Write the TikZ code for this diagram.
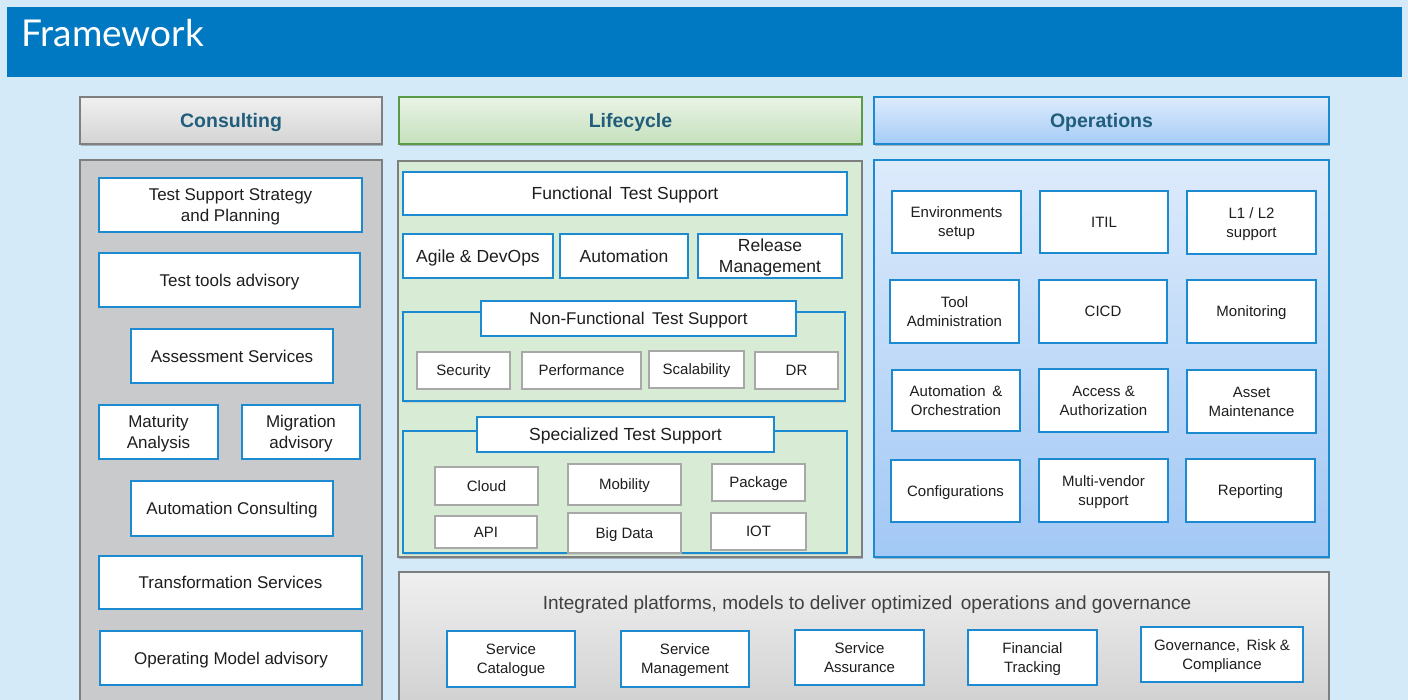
\documentclass[tikz,border=0pt]{standalone}
\usepackage{fontspec}
\setmainfont{Liberation Sans}
\newfontfamily\titlefont{Lato}
\usetikzlibrary{shadows}
\definecolor{bgblue}{HTML}{D5EAF8}
\definecolor{barblue}{HTML}{0079C2}
\definecolor{bblue}{HTML}{1C8AD0}
\definecolor{headtxt}{HTML}{215E7C}
\definecolor{gborder}{HTML}{7F7F7F}
\definecolor{ltgreen}{HTML}{D8EBD4}
\definecolor{gbody}{HTML}{C9CACC}
\definecolor{itemgray}{HTML}{A8A8A8}
\definecolor{txt}{HTML}{1E1E1E}
\definecolor{ptxt}{HTML}{404040}
\definecolor{greenb}{HTML}{5B9B47}
\newcommand\bx[7]{\node[#6, minimum width={(#4-#2)*1pt}, minimum height={(#5-#3)*1pt}] (#1) at ({(#2+#4)/2},{(#3+#5)/2}) {#7};}
\tikzset{
  base/.style={rectangle, inner sep=0pt, outer sep=0pt, align=center, text=txt, text depth=0pt},
  shd/.style={drop shadow={shadow xshift=1.2pt, shadow yshift=-2pt, opacity=0.35, fill=black!70}},
  head/.style={base, shd, line width=1.8pt, text=headtxt, font=\bfseries\fontsize{19.5}{22}\selectfont},
  body/.style={base, shd, line width=1.8pt},
  bluebox/.style={base, draw=bblue, line width=2pt, fill=white, font=\fontsize{17}{21}\selectfont},
  lcbox/.style={bluebox, font=\fontsize{17.5}{21}\selectfont},
  frame/.style={base, draw=bblue, line width=1.6pt, fill=ltgreen, drop shadow={shadow xshift=1pt, shadow yshift=-1.5pt, opacity=0.2}},
  itembox/.style={base, draw=itemgray, line width=1.4pt, fill=white, font=\fontsize{15}{18}\selectfont},
  opbox/.style={bluebox, font=\fontsize{15}{19}\selectfont},
}
\begin{document}
\begin{tikzpicture}[x=1pt,y=-1pt]
\useasboundingbox (0,0) rectangle (1408,700);
\clip (0,0) rectangle (1408,700);
\bx{bg}{0}{0}{1408}{700}{base, fill=bgblue}{}
% title bar
\bx{bar}{7}{7}{1402}{77}{base, fill=barblue}{}
\node[anchor=base west, inner sep=0pt, text=white, font=\titlefont\fontsize{37}{40}\selectfont] (title) at (21,47) {Framework};

% column headers
\bx{hcons}{80}{97}{382}{144}{head, draw=gborder, top color=black!6, bottom color=black!17}{Consulting}
\bx{hlife}{399}{97}{862}{144}{head, draw=greenb, top color={rgb,255:red,233;green,243;blue,230}, bottom color={rgb,255:red,197;green,224;blue,187}}{Lifecycle}
\bx{hops}{874}{97}{1329}{144}{head, draw=bblue, top color={rgb,255:red,221;green,235;blue,252}, bottom color={rgb,255:red,166;green,204;blue,247}}{Operations}

% column bodies
\bx{bcons}{80}{160}{382}{715}{body, draw=gborder, fill=gbody}{}
\bx{blife}{398}{161}{862}{557}{body, draw=gborder, fill=ltgreen}{}
\bx{bops}{874}{160}{1329}{557}{body, draw=bblue, top color={rgb,255:red,221;green,235;blue,251}, bottom color={rgb,255:red,162;green,200;blue,245}}{}
\bx{bplat}{399}{572}{1329}{715}{body, draw=gborder, top color=black!6, bottom color=black!19}{}

% consulting items
\bx{c1}{99}{178}{362}{232}{bluebox}{Test Support Strategy\\and Planning}
\bx{c2}{99}{253}{360}{307}{bluebox}{Test tools advisory}
\bx{c3}{131}{329}{333}{383}{bluebox}{Assessment Services}
\bx{c4}{99}{405}{218}{459}{bluebox}{Maturity\\Analysis}
\bx{c5}{242}{405}{360}{459}{bluebox}{Migration\\advisory}
\bx{c6}{131}{481}{333}{536}{bluebox}{Automation Consulting}
\bx{c7}{99}{556}{362}{609}{bluebox}{Transformation Services}
\bx{c8}{100}{631}{362}{685}{bluebox}{Operating Model advisory}

% lifecycle items
\bx{l1}{403}{172}{847}{215}{lcbox}{Functional\, Test Support}
\bx{l2}{403}{234}{553}{278}{lcbox}{Agile \& DevOps}
\bx{l3}{560}{234}{688}{278}{lcbox}{Automation}
\bx{l4}{698}{234}{842}{278}{lcbox}{Release\\Management}

\bx{nff}{403}{312}{845}{401}{frame}{}
\bx{nft}{481}{301}{796}{336}{bluebox}{Non-Functional\, Test Support}
\bx{n1}{417}{352}{510}{389}{itembox}{Security}
\bx{n2}{522}{352}{641}{389}{itembox}{Performance}
\bx{n3}{649}{351}{744}{388}{itembox}{Scalability}
\bx{n4}{755}{352}{838}{389}{itembox}{DR}

\bx{spf}{403}{431}{847}{553}{frame}{}
\bx{spt}{477}{417}{774}{452}{lcbox}{Specialized Test Support}
\bx{s1}{435}{467}{538}{505}{itembox}{Cloud}
\bx{s2}{568}{464}{681}{505}{itembox}{Mobility}
\bx{s3}{712}{464}{805}{501}{itembox}{Package}
\bx{s4}{435}{516}{537}{548}{itembox}{API}
\bx{s5}{568}{513}{681}{553}{itembox}{Big Data}
\bx{s6}{711}{513}{806}{550}{itembox}{IOT}

% operations items
\bx{o1}{892}{191}{1021}{253}{opbox}{Environments\\setup}
\bx{o2}{1040}{191}{1168}{253}{opbox}{ITIL}
\bx{o3}{1187}{191}{1316}{254}{opbox}{L1 / L2\\support}
\bx{o4}{890}{280}{1019}{343}{opbox}{Tool\\Administration}
\bx{o5}{1039}{280}{1167}{343}{opbox}{CICD}
\bx{o6}{1187}{280}{1316}{343}{opbox}{Monitoring}
\bx{o7}{892}{370}{1020}{431}{opbox}{Automation\, \&\\Orchestration}
\bx{o8}{1039}{369}{1168}{432}{opbox}{Access \&\\Authorization}
\bx{o9}{1187}{370}{1316}{433}{opbox}{Asset\\Maintenance}
\bx{o10}{891}{460}{1020}{522}{opbox}{Configurations}
\bx{o11}{1039}{459}{1168}{522}{opbox}{Multi-vendor\\support}
\bx{o12}{1186}{459}{1315}{522}{opbox}{Reporting}

% platform
\node[base, text=ptxt, font=\fontsize{19}{22}\selectfont] (ptitle) at (867,603) {Integrated platforms, models to deliver optimized\, operations and governance};
\bx{p1}{447}{631}{575}{687}{opbox}{Service\\Catalogue}
\bx{p2}{621}{631}{749}{687}{opbox}{Service\\Management}
\bx{p3}{795}{630}{924}{685}{opbox}{Service\\Assurance}
\bx{p4}{968}{630}{1097}{685}{opbox}{Financial\\Tracking}
\bx{p5}{1141}{627}{1303}{682}{opbox}{Governance,\, Risk \&\\Compliance}
\end{tikzpicture}
\end{document}
